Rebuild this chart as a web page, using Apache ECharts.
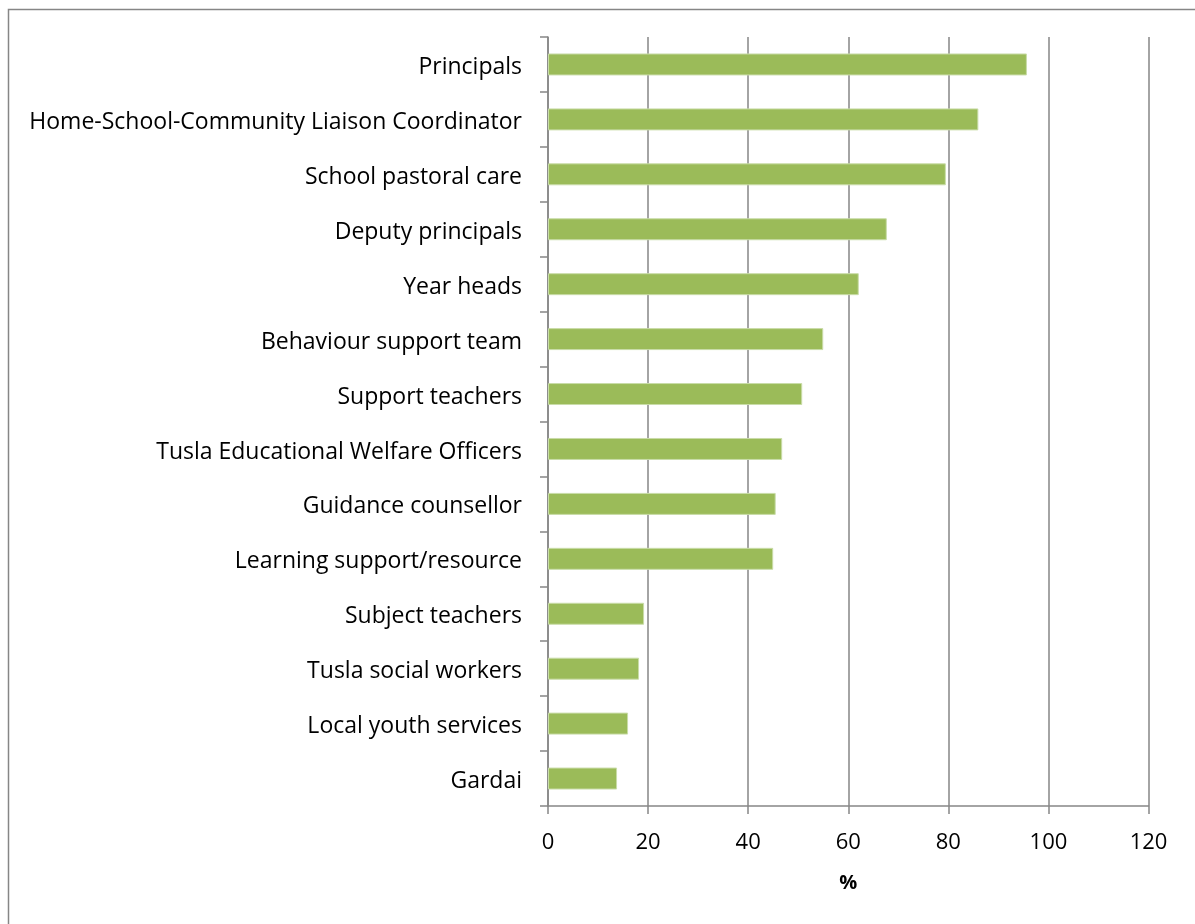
<!DOCTYPE html>
<html>
<head>
<meta charset="utf-8">
<title>Staff involvement</title>
<script src="https://cdn.jsdelivr.net/npm/echarts@6/dist/echarts.min.js"></script>
<style>
  html, body { margin: 0; padding: 0; background: #ffffff; }
  #chart { width: 1195px; height: 924px; }
</style>
</head>
<body>
<div id="chart"></div>
<script>
// Categories listed bottom to top (category axis on y starts at the bottom)
const categories = [
  'Gardai',
  'Local youth services',
  'Tusla social workers',
  'Subject teachers',
  'Learning support/resource',
  'Guidance counsellor',
  'Tusla Educational Welfare Officers',
  'Support teachers',
  'Behaviour support team',
  'Year heads',
  'Deputy principals',
  'School pastoral care',
  'Home-School-Community Liaison Coordinator',
  'Principals'
];
const percentages = [13.8, 16.0, 18.2, 19.2, 45.0, 45.5, 46.8, 50.8, 55.0, 62.1, 67.7, 79.5, 86.0, 95.7];
const axisMax = 120;
const axisStep = 20;

const FONT = '"Open Sans", Lato, sans-serif';
const GREY = '#868686';

const chart = echarts.init(document.getElementById('chart'), null, { renderer: 'canvas' });
chart.setOption({
  backgroundColor: '#ffffff',
  animation: false,
  graphic: [{
    type: 'rect',
    shape: { x: 8.5, y: 9.5, width: 1200, height: 940 },
    style: { fill: 'none', stroke: GREY, lineWidth: 1.5 },
    silent: true
  }],
  grid: { left: 548, right: 46.5, top: 37, bottom: 118, containLabel: false },
  xAxis: {
    type: 'value',
    min: 0,
    max: axisMax,
    interval: axisStep,
    name: '%',
    nameLocation: 'middle',
    nameGap: 67,
    nameTextStyle: { fontFamily: FONT, fontSize: 20, fontWeight: 'bold', color: '#000' },
    axisLine: { show: true, lineStyle: { color: GREY, width: 1.5 } },
    axisTick: { show: true, length: 8, lineStyle: { color: GREY, width: 1.5 } },
    axisLabel: { fontFamily: FONT, fontSize: 22, color: '#000', margin: 26 },
    splitLine: { show: true, lineStyle: { color: GREY, width: 1.5 } }
  },
  yAxis: {
    type: 'category',
    data: categories,
    axisLine: { show: true, lineStyle: { color: GREY, width: 1.5 } },
    axisTick: { show: true, length: 8, alignWithLabel: false, lineStyle: { color: GREY, width: 1.5 } },
    axisLabel: {
      margin: 26,
      formatter: (v) => '{c|' + v + '}',
      rich: {
        c: { fontFamily: FONT, fontSize: 23, color: '#000', padding: [6, 0, 0, 0] }
      }
    },
    splitLine: { show: false }
  },
  series: [{
    type: 'bar',
    data: percentages,
    barCategoryGap: '60%',
    itemStyle: { color: '#9BBB59', borderColor: '#c9dca8', borderWidth: 1 },
    silent: true
  }]
});
</script>
</body>
</html>
